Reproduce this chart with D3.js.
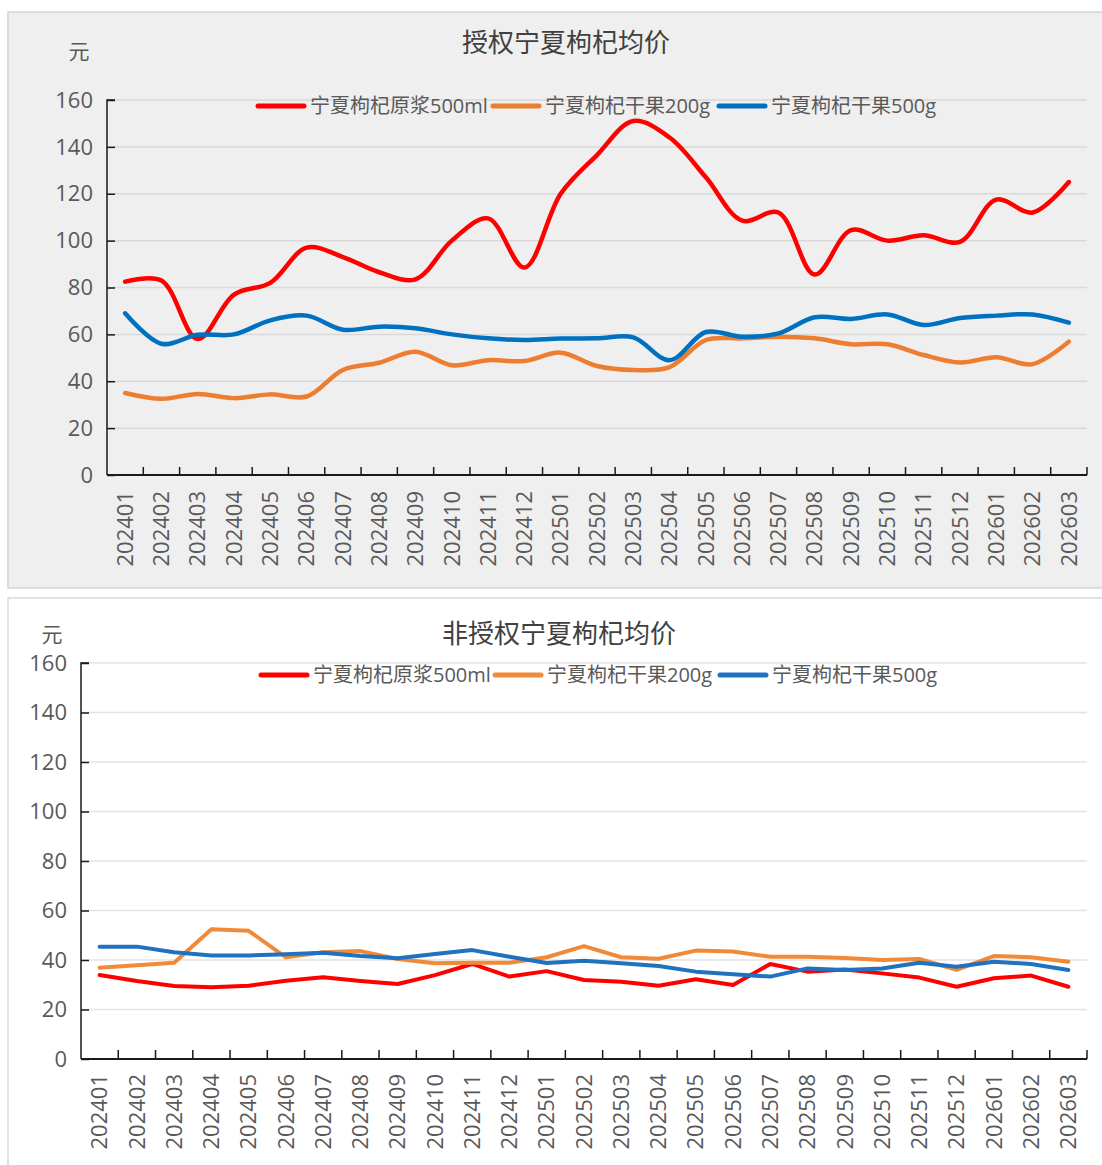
<!DOCTYPE html>
<html><head><meta charset="utf-8">
<script src="https://cdn.jsdelivr.net/npm/d3@7"></script>
<style>
body{margin:0;background:#fff;}
svg{display:block;}
text{font-family:"Open Sans","Noto Sans CJK SC",sans-serif;fill:#595959;}
</style></head>
<body>
<svg id="c" width="1102" height="1165"></svg>
<script>
const months = ["202401","202402","202403","202404","202405","202406","202407","202408","202409","202410","202411","202412","202501","202502","202503","202504","202505","202506","202507","202508","202509","202510","202511","202512","202601","202602","202603"];
const seriesNames = ["宁夏枸杞原浆500ml","宁夏枸杞干果200g","宁夏枸杞干果500g"];
const seriesColors = ["#ff0000","#ed7d31","#0070c0"];
const yTicks = [0,20,40,60,80,100,120,140,160];

// 授权
const authJuice500 = [82.5,83,58,77,82,97,93,86.5,83.5,100,109.5,88.5,120,136.5,151,144,127,108.5,112,85.5,104.5,100,102.3,99.5,117.5,112,125];
const authDry200  = [35,32.5,34.6,32.8,34.4,33.5,44.8,47.9,52.6,46.8,49,48.6,52.2,46.5,44.8,46,57.6,58.3,59,58.3,55.8,55.8,51.2,48,50.2,47.3,56.9];
const authDry500  = [69,56,59.8,60,66,68,62,63.3,62.6,60,58.3,57.6,58.2,58.3,58.7,49,61,59,60.4,67.3,66.6,68.5,64,67,68,68.5,65];

// 非授权
const unauthJuice500 = [33.9,31.5,29.5,29,29.6,31.6,33,31.5,30.3,33.9,38.4,33.3,35.5,31.9,31.2,29.6,32.2,29.9,38.4,35.3,36.2,34.6,32.9,29.2,32.6,33.7,29.2];
const unauthDry200  = [36.9,37.9,38.9,52.4,51.8,41.1,43.1,43.6,40.4,38.7,38.9,38.9,41.1,45.6,41.1,40.5,43.8,43.4,41.3,41.3,40.8,40,40.4,36,41.6,41.1,39.3];
const unauthDry500  = [45.4,45.4,43.1,41.8,41.8,42.3,42.9,41.6,40.7,42.4,44,41.3,38.8,39.7,38.7,37.6,35.3,34.2,33.3,36.6,36,36.6,38.9,37.3,39.3,38.4,36];

const svg = d3.select("#c");

function drawChart(cfg){
  const g = svg.append("g");
  g.append("rect").attr("x",cfg.panel[0]).attr("y",cfg.panel[1]).attr("width",cfg.panel[2]).attr("height",cfg.panel[3])
    .attr("fill",cfg.bg).attr("stroke",cfg.border).attr("stroke-width",1.5);

  const x = d3.scaleBand().domain(months).range([cfg.left,cfg.right]);
  const y = d3.scaleLinear().domain([0,160]).range([cfg.bottom,cfg.top]);

  // gridlines
  g.append("g").selectAll("line").data(yTicks.filter(d=>d>0)).join("line")
    .attr("x1",cfg.left).attr("x2",cfg.right).attr("y1",d=>y(d)).attr("y2",d=>y(d))
    .attr("stroke",cfg.grid).attr("stroke-width",1.5);

  // y axis
  const ya = g.append("g").attr("transform",`translate(${cfg.left},0)`)
    .call(d3.axisRight(y).tickValues(yTicks).tickSize(8).tickFormat(""));
  ya.selectAll("path,line").attr("stroke","#1a1a1a").attr("stroke-width",1.5);
  ya.select(".domain").attr("d",`M8,${cfg.top}H0V${cfg.bottom}`);
  g.append("g").selectAll("text").data(yTicks).join("text")
    .attr("x",cfg.left-14).attr("y",d=>y(d)).attr("dy","0.35em")
    .attr("text-anchor","end").style("font-size","22px").text(d=>d);

  // x axis ticks at band boundaries
  const bounds = months.map(m=>x(m)).concat([cfg.right]);
  g.append("g").selectAll("line").data(bounds.slice(1)).join("line")
    .attr("x1",d=>d).attr("x2",d=>d).attr("y1",cfg.bottom).attr("y2",cfg.bottom-cfg.xtick)
    .attr("stroke","#1a1a1a").attr("stroke-width",1.5);
  g.append("line").attr("x1",cfg.left).attr("x2",cfg.right).attr("y1",cfg.bottom).attr("y2",cfg.bottom)
    .attr("stroke","#1a1a1a").attr("stroke-width",2);
  g.append("g").selectAll("text").data(months).join("text")
    .attr("transform",d=>`translate(${x(d)+x.bandwidth()/2},${cfg.bottom+cfg.xlabOff}) rotate(-90)`)
    .attr("dy","0.35em").attr("text-anchor","end").style("font-size","22px").text(d=>d);

  // title, unit
  g.append("text").attr("x",cfg.titleX).attr("y",cfg.titleY).attr("text-anchor","middle")
    .style("font-size","26px").style("fill","#404040").text(cfg.title);
  g.append("text").attr("x",cfg.unitX).attr("y",cfg.unitY).attr("text-anchor","middle")
    .style("font-size","21px").text("元");

  // lines
  const line = d3.line().x((d,i)=>x(months[i])+x.bandwidth()/2).y(d=>y(d)).curve(cfg.curve);
  cfg.data.forEach((arr,k)=>{
    g.append("path").datum(arr).attr("d",line).attr("fill","none")
      .attr("stroke",cfg.colors[k]).attr("stroke-width",cfg.lw)
      .attr("stroke-linecap","round").attr("stroke-linejoin","round");
  });

  // legend
  const leg = g.append("g");
  cfg.legX.forEach((lx,k)=>{
    leg.append("line").attr("x1",lx).attr("x2",lx+46).attr("y1",cfg.legY).attr("y2",cfg.legY)
      .attr("stroke",cfg.colors[k]).attr("stroke-width",5).attr("stroke-linecap","round");
    leg.append("text").attr("x",lx+52).attr("y",cfg.legY).attr("dy","0.35em")
      .style("font-size","20px").text(seriesNames[k]);
  });
}

drawChart({
  panel:[8,12,1100,576], bg:"#efefef", border:"#d4d4d4", grid:"#d9d9d9",
  left:107, right:1087, top:100, bottom:475, xtick:8, xlabOff:16,
  title:"授权宁夏枸杞均价", titleX:566, titleY:52, unitX:79, unitY:59,
  data:[authJuice500, authDry200, authDry500], colors:seriesColors, lw:4.5,
  curve:d3.curveCatmullRom.alpha(0.5),
  legX:[258,493,719], legY:106
});

drawChart({
  panel:[8,598,1100,580], bg:"#ffffff", border:"#d9d9d9", grid:"#e3e3e3",
  left:81, right:1087, top:663, bottom:1059, xtick:9, xlabOff:15,
  title:"非授权宁夏枸杞均价", titleX:559, titleY:643, unitX:52, unitY:642,
  data:[unauthJuice500, unauthDry200, unauthDry500], colors:["#ff0000","#f08a38","#1f72c0"], lw:4,
  curve:d3.curveLinear,
  legX:[261,495,720], legY:675
});
</script>
</body></html>
